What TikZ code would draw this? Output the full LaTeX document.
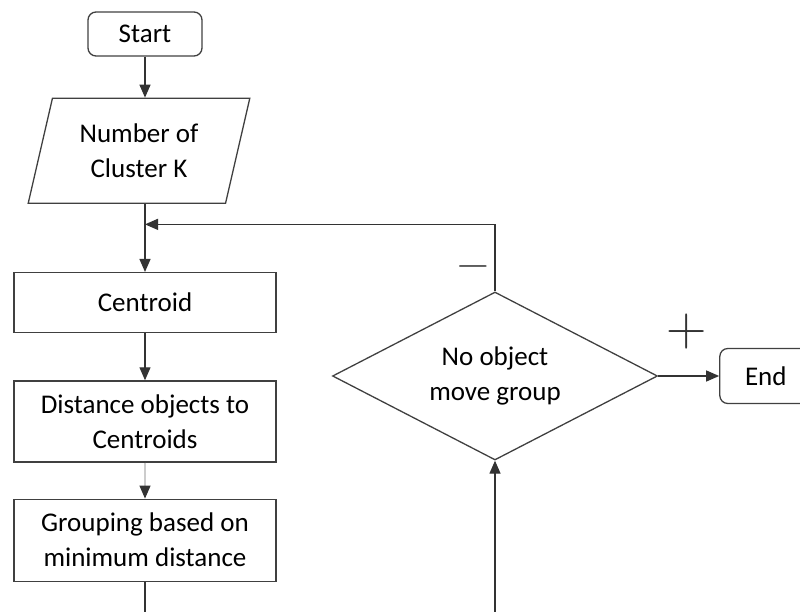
\documentclass[tikz,border=0pt]{standalone}
\usepackage{fontspec}
\setmainfont{Carlito}
\newfontfamily\signfont{Latin Modern Roman}
\usetikzlibrary{shapes.geometric,positioning,calc,arrows.meta}

\begin{document}
\begin{tikzpicture}[x=1pt, y=-1pt, node distance=40pt,
        box/.style={draw=black!75, line width=1.3pt, rectangle, minimum width=262pt, align=center, font=\fontsize{27}{35}\selectfont, inner sep=4pt},
        term/.style={box, rounded corners=8pt, minimum width=114pt, minimum height=44pt},
        io/.style={box, trapezium, trapezium left angle=74, trapezium right angle=106, trapezium stretches, minimum width=222pt, minimum height=105pt},
        decision/.style={box, diamond, aspect=1.93, minimum width=325pt, minimum height=168pt, inner sep=0pt},
        line/.style={draw=black!80, line width=1.3pt},
        sign/.style={inner sep=0pt, text=black!80},
        >={Triangle[length=13pt,width=11pt]}
    ]
        \useasboundingbox (0,0) rectangle (800,612);
        \clip (0,0) rectangle (800,612);

        \node [term] (start) at (145,34) {Start};
        \node [io, below=41pt of start, xshift=-6pt] (num) {Number of\\Cluster K};
        \node [box, minimum height=60pt, below=68pt of num, xshift=6pt] (cent) {Centroid};
        \node [box, minimum height=81pt, below=47pt of cent] (dist) {Distance objects to\\Centroids};
        \node [box, minimum height=82pt, below=36pt of dist] (grp) {Grouping based on\\minimum distance};
        \node [decision] (dia) at (495,376) {No object\\move group};
        \node [term, minimum width=92pt, minimum height=55pt, right=61pt of dia] (end) {End};

        % branch signs
        \node [sign, font=\signfont\fontsize{44}{44}\selectfont] (minus) at (473,272) {−};
        \node [sign, font=\signfont\fontsize{56}{56}\selectfont] (plus) at (687,332) {+};

        \coordinate (join) at ($(num.south -| cent.north)!0.3!(cent.north)$);
        \coordinate (low) at (0,640);

        \draw [->, line] (start.south) -- (start.south |- num.north);
        \draw [->, line] (num.south -| cent.north) -- (cent);
        \draw [->, line] (cent) -- (dist);
        \draw [line, draw=black!20, -{Triangle[length=13pt,width=11pt,color=black!80]}] (dist) -- (grp);
        \draw [line] (grp) -- (grp.south |- low);
        \draw [->, line] (dia.south |- low) -- (dia);
        \draw [->, line] (dia.north) |- (join);
        \draw [->, line] (dia) -- (end);
    \end{tikzpicture}
\end{document}
